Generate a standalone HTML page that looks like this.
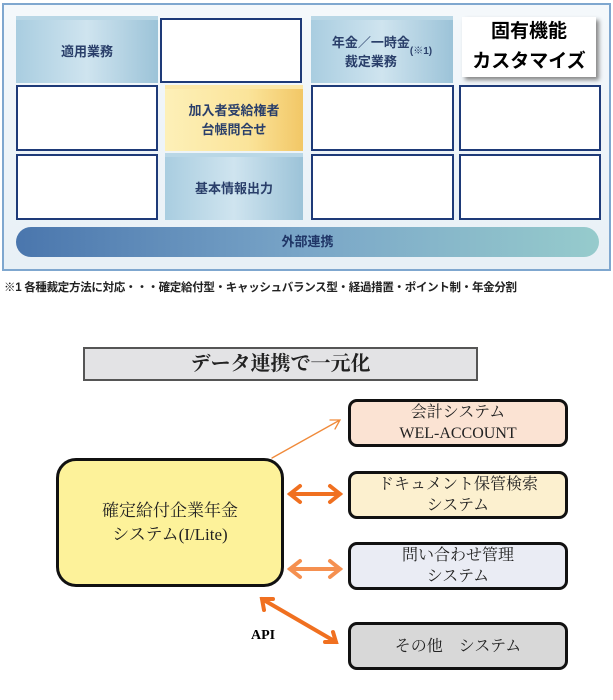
<!DOCTYPE html><html><head><meta charset="utf-8"><style>
body{margin:0;width:613px;height:700px;background:#fff;position:relative;font-family:"Liberation Sans","Noto Sans CJK JP",sans-serif;overflow:hidden}
.a{position:absolute;box-sizing:border-box}
.w{background:#fff;border:2px solid #1e3a78}
.b{background:linear-gradient(90deg,#a9cde0,#cfe4ef 50%,#9cc3d8);color:#2a3f6a;font-weight:bold;font-size:13px;display:flex;align-items:center;justify-content:center;text-align:center;line-height:19px;border-top:4px solid #b9d7e6}
.r{border:3px solid #111;border-radius:9px;display:flex;align-items:center;justify-content:center;text-align:center;font-family:"Liberation Serif","Noto Serif CJK SC",serif;font-size:16px;line-height:21px;color:#222}
</style></head><body>
<div class="a" style="left:2px;top:3px;width:609px;height:268px;border:2px solid #7fa7cf;background:linear-gradient(#f4f8fb,#e8f0f6)"></div>
<div class="a b" style="left:16px;top:16px;width:142px;height:67px">適用業務</div>
<div class="a w" style="left:160px;top:18px;width:142px;height:65px"></div>
<div class="a b" style="left:311px;top:16px;width:142px;height:67px">年金／一時金<br>裁定業務<span style="font-size:10px">(※1)</span></div>
<div class="a" style="left:462px;top:17px;width:134px;height:60px;background:#fff;box-shadow:3px 3px 4px #888;font-weight:bold;font-size:19px;text-align:center;line-height:30px;color:#000">固有機能<br>カスタマイズ</div>
<div class="a w" style="left:16px;top:85px;width:142px;height:66px"></div>
<div class="a b" style="left:165px;top:85px;width:138px;height:66px;background:linear-gradient(90deg,#fdf0b8,#fbe49a 60%,#f2c766);border-top-color:#fbe7a8">加入者受給権者<br>台帳問合せ</div>
<div class="a w" style="left:311px;top:85px;width:143px;height:66px"></div>
<div class="a w" style="left:459px;top:85px;width:142px;height:66px"></div>
<div class="a w" style="left:16px;top:154px;width:142px;height:66px"></div>
<div class="a b" style="left:165px;top:153px;width:138px;height:67px">基本情報出力</div>
<div class="a w" style="left:311px;top:154px;width:143px;height:66px"></div>
<div class="a w" style="left:459px;top:154px;width:142px;height:66px"></div>
<div class="a" style="left:16px;top:227px;width:583px;height:30px;border-radius:15px;background:linear-gradient(90deg,#4a76ad,#7aa6c8 50%,#96cbcc);color:#1f3566;font-weight:bold;font-size:13px;text-align:center;line-height:30px">外部連携</div>
<div class="a" style="left:4px;top:279px;font-size:11.5px;font-weight:bold;color:#222;white-space:nowrap;letter-spacing:-0.3px">※1 各種裁定方法に対応・・・確定給付型・キャッシュバランス型・経過措置・ポイント制・年金分割</div>
<div class="a" style="left:83px;top:347px;width:395px;height:34px;background:#e3e3e5;border:2px solid #555;font-family:'Liberation Serif','Noto Serif CJK SC',serif;font-size:20px;font-weight:bold;text-align:center;line-height:30px;color:#222">データ連携で一元化</div>
<div class="a r" style="left:56px;top:458px;width:228px;height:129px;background:#fdf29a;border-radius:20px;font-size:17px;line-height:24px">確定給付企業年金<br>システム(I/Lite)</div>
<div class="a r" style="left:348px;top:399px;width:220px;height:48px;background:#fbe3d3">会計システム<br>WEL-ACCOUNT</div>
<div class="a r" style="left:348px;top:471px;width:220px;height:48px;background:#fcf0cf">ドキュメント保管検索<br>システム</div>
<div class="a r" style="left:348px;top:542px;width:220px;height:48px;background:#eaecf4">問い合わせ管理<br>システム</div>
<div class="a r" style="left:348px;top:622px;width:220px;height:48px;background:#d8d8d8">その他　システム</div>
<div class="a" style="left:251px;top:628px;font-family:'Liberation Serif',serif;font-weight:bold;font-size:14px">API</div>
<svg class="a" style="left:0;top:0" width="613" height="700">
<g stroke="#f08a3a" fill="none" stroke-linecap="round">
<path d="M272 458L340 420M330 420L340 420L335 429" stroke-width="1.3"/>
<path d="M290 494H340M300 486L290 494L300 502M330 486L340 494L330 502" stroke-width="4" stroke="#f07020"/>
<path d="M290 569H340M300 561L290 569L300 577M330 561L340 569L330 577" stroke-width="4" stroke="#f59050"/>
<path d="M262 599L336 642M264 610L262 599L273 599M325 642L336 642L333 632" stroke-width="4" stroke="#f07020"/>
</g></svg>
</body></html>
